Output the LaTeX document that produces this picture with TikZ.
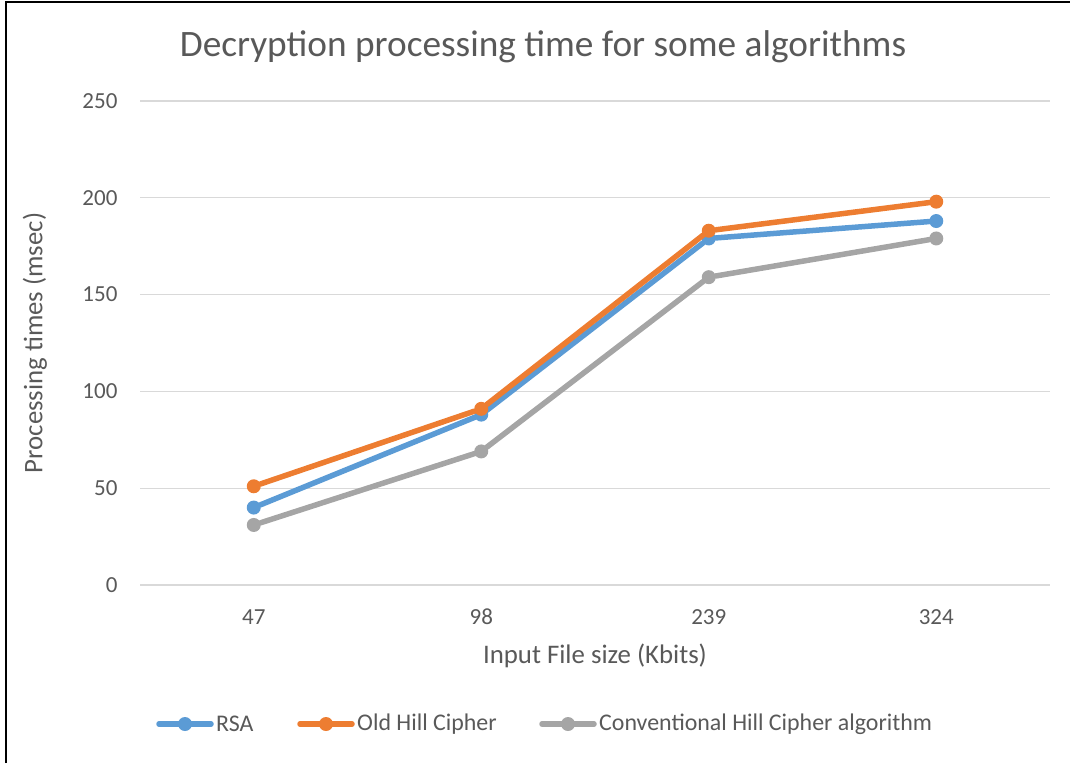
\documentclass[tikz,border=0pt]{standalone}
\usepackage{fontspec}
\setmainfont{Carlito}
\usetikzlibrary{positioning}

\definecolor{rsablue}{HTML}{5B9BD5}
\definecolor{oldorange}{HTML}{ED7D31}
\definecolor{convgray}{HTML}{A5A5A5}
\definecolor{gridgray}{HTML}{D9D9D9}
\definecolor{labelgray}{HTML}{595959}

% category position and value position inside the plot frame
\newcommand{\catx}[1]{140+227.5*(#1-0.5)}
\newcommand{\valy}[1]{585-1.936*#1}

\begin{document}
\begin{tikzpicture}[x=1pt, y=-1pt,
  ticklabel/.style={text=labelgray, font=\fontsize{23}{27}\selectfont},
  axistitle/.style={text=labelgray, font=\fontsize{26.8}{32}\selectfont},
  legendtext/.style={text=labelgray, font=\fontsize{23.9}{28}\selectfont, anchor=west, inner xsep=0pt},
  gridline/.style={draw=gridgray, line width=1.3pt},
  marker/.style={circle, fill=#1, inner sep=0pt, minimum size=14pt},
  series/.style={draw=#1, line width=5.5pt, line cap=round}
]
\useasboundingbox (0,0) rectangle (1070,763);
% frame of the chart area
\draw[line width=2pt] (6,763) -- (6,2) -- (1070,2);

\node[text=labelgray, font=\fontsize{37.3}{44}\selectfont] (title) at (543,47) {Decryption processing time for some algorithms};

% value grid
\foreach \v in {0,50,...,250} {
  \draw[gridline] (140,{\valy{\v}}) -- (1050,{\valy{\v}});
  \node[ticklabel, anchor=east] (ytick\v) at (121,{\valy{\v}}) {\v};
}
\foreach \s [count=\i] in {47,98,239,324}
  \node[ticklabel] (xtick\i) at ({\catx{\i}},617) {\s};

\node[axistitle] (xtitle) at (595,656) {Input File size (Kbits)};
\node[axistitle, rotate=90] (ytitle) at (35,343) {Processing times (msec)};

% data series
\foreach \name/\col/\vals in {rsa/rsablue/{40,88,179,188}, old/oldorange/{51,91,183,198}, conv/convgray/{31,69,159,179}} {
  \foreach \v [count=\i] in \vals
    \node[marker=\col] (\name\i) at ({\catx{\i}},{\valy{\v}}) {};
  \draw[series=\col] (\name1) -- (\name2) -- (\name3) -- (\name4);
}

% legend
\foreach \name/\col/\mx/\txt in {rsa/rsablue/185/RSA, old/oldorange/326/Old Hill Cipher, conv/convgray/568/Conventional Hill Cipher algorithm} {
  \coordinate (\name keyL) at (\mx-26,724);
  \coordinate (\name keyR) at (\mx+26,724);
  \draw[series=\col] (\name keyL) -- (\name keyR);
  \node[marker=\col] (\name key) at (\mx,724) {};
  \node[legendtext] (\name label) at (\mx+31,724) {\txt};
}
\end{tikzpicture}
\end{document}
